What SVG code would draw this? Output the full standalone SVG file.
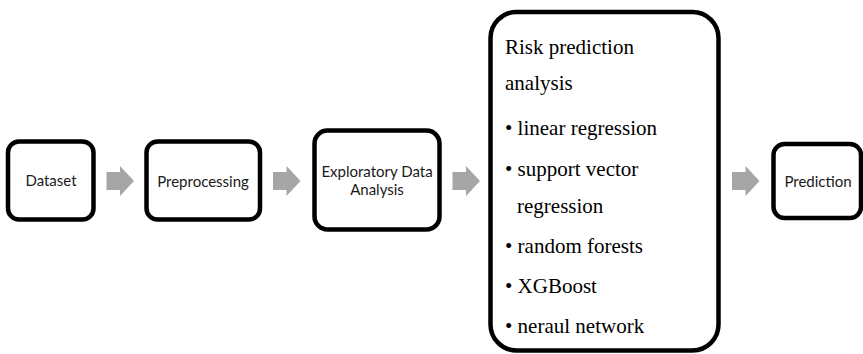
<svg xmlns="http://www.w3.org/2000/svg" width="863" height="354" viewBox="0 0 863 354">
  <style>
    .box { fill: #ffffff; stroke: #000000; stroke-width: 4.5; }
    .lbl { font-family: Lato, "Liberation Sans", Arial, sans-serif; font-size: 15px; fill: #1a1a1a; text-anchor: middle; }
    .ser { font-family: "Liberation Serif", "Times New Roman", serif; font-size: 21px; fill: #000000; }
    .arr { fill: #a6a6a6; stroke: none; }
  </style>
  <defs>
    <path id="arrowShape" d="M0,-9 H13.5 V-15 L27.5,0 L13.5,15 V9 H0 Z"/>
  </defs>
  <rect width="863" height="354" fill="#ffffff"/>

  <g id="connectors">
    <use href="#arrowShape" class="arr" x="106.5" y="181"/>
    <use href="#arrowShape" class="arr" x="273" y="181"/>
    <use href="#arrowShape" class="arr" x="452.5" y="181"/>
    <use href="#arrowShape" class="arr" x="732" y="181"/>
  </g>

  <g id="node-dataset">
    <rect class="box" x="8" y="141.5" width="85.5" height="78" rx="11"/>
    <text class="lbl" x="51" y="186">Dataset</text>
  </g>

  <g id="node-preprocessing">
    <rect class="box" x="146.5" y="141.5" width="113.5" height="78" rx="11"/>
    <text class="lbl" x="203" y="186.5">Preprocessing</text>
  </g>

  <g id="node-eda">
    <rect class="box" x="314.5" y="130.5" width="125" height="99" rx="13"/>
    <text class="lbl" x="377" y="177" font-size="14.5">Exploratory Data</text>
    <text class="lbl" x="377" y="195" font-size="14.5">Analysis</text>
  </g>

  <g id="node-risk">
    <rect class="box" x="490.5" y="12" width="228" height="338.5" rx="26" stroke-width="5.5"/>
    <text class="ser" x="505" y="53.5">Risk prediction</text>
    <text class="ser" x="505" y="90">analysis</text>
    <text class="ser" x="505" y="135">• linear regression</text>
    <text class="ser" x="505" y="176">• support vector</text>
    <text class="ser" x="517" y="212.5">regression</text>
    <text class="ser" x="505" y="252.5">• random forests</text>
    <text class="ser" x="505" y="293">• XGBoost</text>
    <text class="ser" x="505" y="333">• neraul network</text>
  </g>

  <g id="node-prediction">
    <rect class="box" x="773.5" y="144" width="87.5" height="74" rx="11"/>
    <text class="lbl" x="818" y="186.5">Prediction</text>
  </g>
</svg>
